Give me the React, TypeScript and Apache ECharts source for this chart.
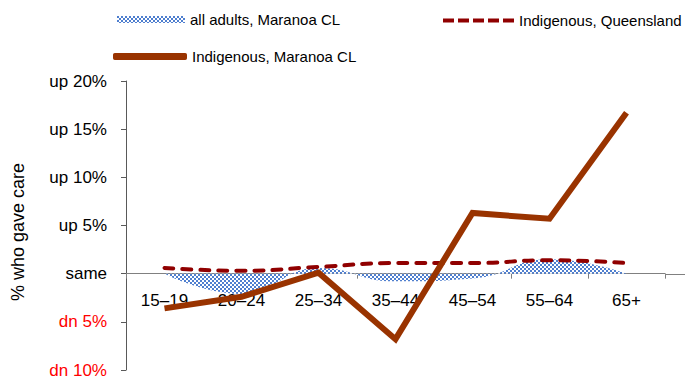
import React, { useEffect, useRef } from "react";
import * as echarts from "echarts";

const categories = ["15–19", "20–24", "25–34", "35–44", "45–54", "55–64", "65+"];
const allAdultsMaranoa = [0, -2.1, 0.6, -0.8, -0.5, 1.5, 0];
const indigenousQueensland = [0.6, 0.3, 0.7, 1.1, 1.1, 1.4, 1.1];
const indigenousMaranoa = [-3.6, -2.4, 0.1, -6.8, 6.3, 5.7, 16.7];
const yTickLabels: Record<string, string> = {
  "-10": "dn 10%",
  "-5": "dn 5%",
  "0": "same",
  "5": "up 5%",
  "10": "up 10%",
  "15": "up 15%",
  "20": "up 20%",
};
const Y_MIN = -10;
const Y_MAX = 20;

const FONT = "'Liberation Sans', Arial, sans-serif";

function makePattern(): HTMLCanvasElement {
  const c = document.createElement("canvas");
  c.width = 4;
  c.height = 4;
  const ctx = c.getContext("2d")!;
  ctx.fillStyle = "#ffffff";
  ctx.fillRect(0, 0, 4, 4);
  ctx.fillStyle = "#4f7fcf";
  ctx.fillRect(0, 0, 2, 2);
  ctx.fillRect(2, 2, 2, 2);
  return c;
}

const DASH_ICON =
  "path://M0,0h11v4h-11z M15,0h11v4h-11z M30,0h11v4h-11z M45,0h11v4h-11z M60,0h11v4h-11z";

export default function App() {
  const ref = useRef<HTMLDivElement>(null);
  useEffect(() => {
    if (!ref.current) return;
    const chart = echarts.init(ref.current, undefined, { renderer: "svg" });
    const pattern = { image: makePattern(), repeat: "repeat" } as any;
    const gridTop = 81;
    const gridBottom = 6;
    const gridH = 376 - gridTop - gridBottom;
    const zeroFromBottom = (gridH * (0 - Y_MIN)) / (Y_MAX - Y_MIN);
    const legendText = { fontSize: 15, color: "#000", fontFamily: FONT };
    chart.setOption({
      animation: false,
      textStyle: { fontFamily: FONT },
      grid: { left: 126, right: 20, top: gridTop, bottom: gridBottom, containLabel: false, outerBoundsMode: "none" },
      legend: [
        {
          data: [{ name: "all adults, Maranoa CL", icon: "rect", itemStyle: { color: pattern } }],
          left: 117,
          top: 12,
          padding: 0,
          itemWidth: 68,
          itemHeight: 7,
          textStyle: legendText,
        },
        {
          data: [{ name: "Indigenous, Queensland", icon: DASH_ICON, itemStyle: { color: "#900000" } }],
          left: 443,
          top: 13,
          padding: 0,
          itemWidth: 71,
          itemHeight: 4,
          textStyle: legendText,
        },
        {
          data: [{ name: "Indigenous, Maranoa CL", icon: "roundRect", itemStyle: { color: "#993300" } }],
          left: 113,
          top: 49,
          padding: 0,
          itemWidth: 74,
          itemHeight: 7,
          textStyle: legendText,
        },
      ],
      xAxis: {
        type: "category",
        data: categories,
        boundaryGap: true,
        position: "bottom",
        offset: -zeroFromBottom,
        axisLine: { onZero: false, lineStyle: { color: "#808080", width: 1 } },
        axisTick: { show: true, length: 5, interval: 0, lineStyle: { color: "#808080" } },
        axisLabel: { fontSize: 17, color: "#000", margin: 18, interval: 0, fontFamily: FONT },
        splitLine: { show: false },
      },
      yAxis: {
        type: "value",
        min: Y_MIN,
        max: Y_MAX,
        interval: 5,
        axisLine: { show: true, lineStyle: { color: "#595959", width: 1 } },
        axisTick: { show: true, length: 5, lineStyle: { color: "#595959" } },
        splitLine: { show: false },
        axisLabel: {
          fontSize: 17,
          margin: 19,
          fontFamily: FONT,
          formatter: (v: number) => yTickLabels[String(v)] ?? "",
          color: (v: any) => (Number(v) < 0 ? "#ff0000" : "#000000"),
        },
      },
      series: [
        {
          name: "all adults, Maranoa CL",
          type: "line",
          data: allAdultsMaranoa,
          smooth: true,
          symbol: "none",
          lineStyle: { width: 0, color: "#4f7fcf" },
          itemStyle: { color: pattern },
          areaStyle: { color: pattern, opacity: 1 },
          z: 1,
        },
        {
          name: "Indigenous, Queensland",
          type: "line",
          data: indigenousQueensland,
          smooth: true,
          symbol: "none",
          lineStyle: { width: 4, color: "#900000", type: [9, 9], cap: "round" },
          itemStyle: { color: "#900000" },
          z: 3,
        },
        {
          name: "Indigenous, Maranoa CL",
          type: "line",
          data: indigenousMaranoa,
          symbol: "none",
          lineStyle: { width: 6, color: "#993300", join: "miter" },
          itemStyle: { color: "#993300" },
          z: 4,
        },
      ],
      graphic: [
        {
          type: "line",
          shape: {
            x1: 665,
            y1: Math.round(376 - gridBottom - zeroFromBottom) + 0.5,
            x2: 685,
            y2: Math.round(376 - gridBottom - zeroFromBottom) + 0.5,
          },
          style: { stroke: "#808080", lineWidth: 1 },
          z: 0,
        },
        {
          type: "text",
          x: 18,
          y: 232,
          rotation: Math.PI / 2,
          style: {
            text: "% who gave care",
            fontSize: 18,
            fontFamily: FONT,
            fill: "#000",
            align: "center",
            verticalAlign: "middle",
          },
        },
      ],
    });
    return () => chart.dispose();
  }, []);
  return <div ref={ref} style={{ width: 685, height: 376, position: "absolute", left: 0, top: 0 }} />;
}
